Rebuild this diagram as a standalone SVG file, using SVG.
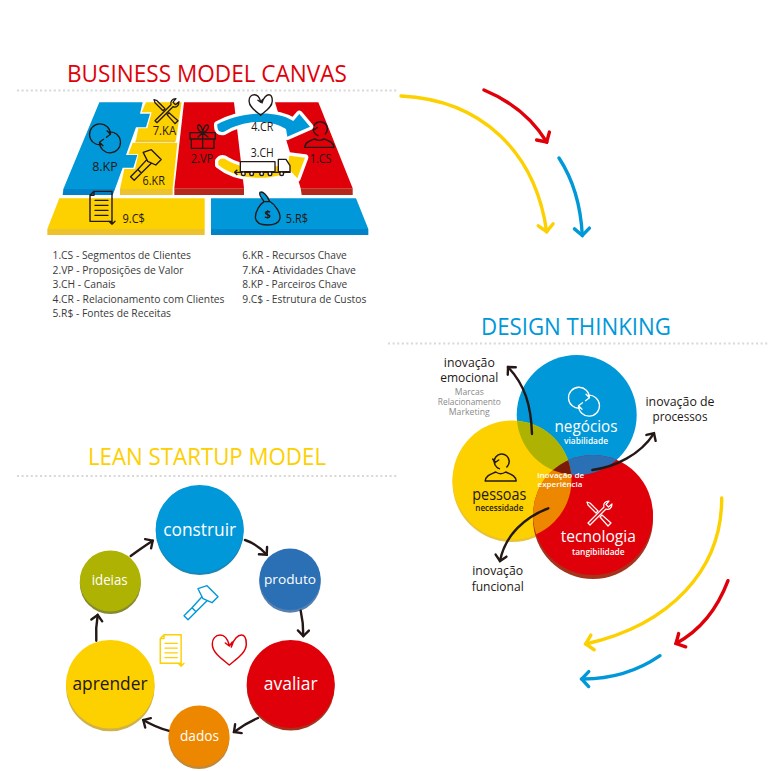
<svg xmlns="http://www.w3.org/2000/svg" xmlns:xlink="http://www.w3.org/1999/xlink" width="771" height="771" viewBox="0 0 771 771">
<style>
text{font-family:"Open Sans","Noto Sans","Liberation Sans",sans-serif;text-anchor:middle}
.title{font-size:23px}
.rule{fill:none;stroke:#d8d8d8;stroke-width:2;stroke-dasharray:2 2.6}
.legend{font-size:10.5px;fill:#3a3a3a;text-anchor:start}
.tag{font-size:36px;fill:#231815}
.note{font-size:13px;fill:#231815}
.sub{font-size:8.5px;fill:#8a8a8a}
.w{fill:#fff}
.ic{fill:none;stroke-linecap:round;stroke-linejoin:round}
.k{stroke:#231815}
.wire{fill:none;stroke:#231815;stroke-width:2.4;stroke-linecap:round}
.big{fill:none;stroke-width:3.4;stroke-linecap:round}
.swoosh{stroke:#fff;stroke-width:20;stroke-linejoin:round;paint-order:stroke}
</style>
<defs>
<marker id="hk" markerUnits="userSpaceOnUse" markerWidth="14" markerHeight="16" viewBox="-9 -8 12 16" refX="0" refY="0" orient="auto" overflow="visible"><path d="M-5.5 -5.5 L0 0 L-5.5 5.5" fill="none" stroke="#231815" stroke-width="2.4" stroke-linecap="round" stroke-linejoin="miter"/></marker>
<marker id="hy" markerUnits="userSpaceOnUse" markerWidth="14" markerHeight="20" viewBox="-10 -10 12 20" refX="0" refY="0" orient="auto" overflow="visible"><path d="M-7 -7.5 L0 0 L-7 7.5" fill="none" stroke="#fdd000" stroke-width="3.4" stroke-linecap="round"/></marker>
<marker id="hr" markerUnits="userSpaceOnUse" markerWidth="14" markerHeight="20" viewBox="-10 -10 12 20" refX="0" refY="0" orient="auto" overflow="visible"><path d="M-7 -7.5 L0 0 L-7 7.5" fill="none" stroke="#e00009" stroke-width="3.4" stroke-linecap="round"/></marker>
<marker id="hb" markerUnits="userSpaceOnUse" markerWidth="14" markerHeight="20" viewBox="-10 -10 12 20" refX="0" refY="0" orient="auto" overflow="visible"><path d="M-7 -7.5 L0 0 L-7 7.5" fill="none" stroke="#0098d8" stroke-width="3.4" stroke-linecap="round"/></marker>

<g id="i-loop"><path d="M-4 6.5A10.5 10.5 0 1 1 5.5 -4M2 -7.5L5.5 -4L1.5 -1M4 -6.5A10.5 10.5 0 1 1 -5.5 4M-2 7.5L-5.5 4L-1.5 1"/></g>
<g id="i-tools"><path d="M-11 9L5 -7C4 -10 6 -13 10 -13L7 -9.5L9.5 -7L13 -10C13 -6 10 -3.5 7 -5L-9 11Z"/><path d="M-12 -12L-9 -11L-1 -3L-3 -1L-11 -9ZM1 3L3 1L12 9L9 12Z"/></g>
<g id="i-hammer"><path d="M-2 -14L7 -17L18 -6L12 0L3 -4ZM2 -6L-8 5L-4 9L7 -2M-8 5L-16 13L-12 17L-4 9"/></g>
<g id="i-doc"><path d="M-7 -16H11V14H-11V-12ZM-7 -16V-12H-11M-6 -7H7M-6 -2H7M-6 3H7M-6 8H7M11 5V17M8 14L11 17L14 14"/></g>
<g id="i-heart"><path d="M2 -3C4 -11 9 -15 12 -15C16 -15 17 -10 17 -6C17 3 7 9 0 15C-7 9 -17 3 -17 -6C-17 -11 -14 -15 -9 -15C-5 -15 -2 -12 0 -5M-4 -7L0 -4L3 -8"/></g>
<g id="i-person"><circle cx="1" cy="-6.5" r="7.5" stroke-dasharray="36 8" transform="rotate(130 1 -6.5)"/><path d="M-8 -9L-5.5 -5.5L-2 -8M-15.5 13H15.5C15 7 9 6 5 4C2 6 -2 6 -5 4C-9 6 -15 7 -15.5 13Z"/></g>

<clipPath id="cb"><circle cx="576.7" cy="415" r="60"/></clipPath>
<clipPath id="cy"><circle cx="512" cy="480" r="59.5"/></clipPath>
<clipPath id="cr"><circle cx="593" cy="515" r="60"/></clipPath>
</defs>

<rect width="771" height="771" fill="#fff"/>

<!-- Section headings and dotted rules -->
<g id="headings">
<text class="title" x="207" y="82" fill="#e00009" textLength="280" lengthAdjust="spacingAndGlyphs">BUSINESS MODEL CANVAS</text>
<line class="rule" x1="17" y1="90.5" x2="398" y2="90.5"/>
<text class="title" x="576" y="335" fill="#0098d8" textLength="190" lengthAdjust="spacingAndGlyphs">DESIGN THINKING</text>
<line class="rule" x1="388" y1="343.5" x2="769" y2="343.5"/>
<text class="title" x="207" y="465" fill="#fdd000" textLength="238" lengthAdjust="spacingAndGlyphs">LEAN STARTUP MODEL</text>
<line class="rule" x1="17" y1="476" x2="398" y2="476"/>
</g>

<!-- Canvas blocks, drawn at triple scale -->
<g id="canvas" transform="translate(40 85) scale(.33333)">
<g id="kp">
<path fill="#0082c8" d="M70 312H225L218 330H68Z"/>
<path fill="#0098d8" d="M178 52H308L300 86H330L318 127H288L258 210H292L280 248H248L225 312H70Z"/>
<use href="#i-loop" transform="translate(195 160) scale(3)" class="ic k" stroke-width="1.3"/>
<text class="tag" x="195" y="258" textLength="77" lengthAdjust="spacingAndGlyphs">8.KP</text>
</g>
<g id="ka">
<path fill="#ecc32e" d="M288 165H408L405 172H285Z"/>
<path fill="#fdd000" d="M318 52H425L408 165H288L295 130H322L335 82H305Z"/>
<use href="#i-tools" transform="translate(378 80) scale(3)" class="ic k" stroke-width="1.3"/>
<text class="tag" x="373" y="150" textLength="70" lengthAdjust="spacingAndGlyphs">7.KA</text>
</g>
<g id="kr">
<path fill="#ecc32e" d="M240 312H398V330H240Z"/>
<path fill="#fdd000" d="M278 173H412L398 312H240L253 252H285L295 208H265Z"/>
<use href="#i-hammer" transform="translate(315 240) scale(2.7)" class="ic k" stroke-width="1.5"/>
<text class="tag" x="341" y="300" textLength="67" lengthAdjust="spacingAndGlyphs">6.KR</text>
</g>
<g id="vp">
<path fill="#b5281a" d="M403 310H612V330H403Z"/>
<path fill="#e00009" d="M432 52H582L612 310H403Z"/>
<g class="ic k" stroke-width="4"><path d="M450 143H526V162H450ZM454 162V190H522V162ZM488 143V190M488 143C470 138 470 118 478 120C484 122 488 135 488 143C490 132 494 118 502 120C510 124 502 140 488 143M488 143L474 156M488 143L504 156"/></g>
<text class="tag" x="486" y="235" textLength="68" lengthAdjust="spacingAndGlyphs">2.VP</text>
</g>
<g id="cs">
<path fill="#b5281a" d="M782 310H938V330H785Z"/>
<path fill="#e00009" d="M705 52H835L938 310H782Z"/>
<use href="#i-person" transform="translate(838 150) scale(2.85)" class="ic k" stroke-width="1.5"/>
<text class="tag" x="842" y="235" textLength="65" lengthAdjust="spacingAndGlyphs">1.CS</text>
</g>
<g id="cr">
<path class="swoosh" fill="#0098d8" d="M532 118C590 85 700 70 760 108L778 87L810 125L742 155L738 132C690 100 610 105 552 140Q530 145 532 118Z"/>
<use href="#i-heart" transform="translate(662 60) scale(2.05)" class="ic k" stroke-width="2"/>
<text class="tag" x="667" y="137" textLength="67" lengthAdjust="spacingAndGlyphs">4.CR</text>
</g>
<g id="ch">
<path class="swoosh" fill="#fdd000" d="M535 228Q545 215 560 225C600 250 680 262 745 232L748 212L795 218L772 280L752 258C690 290 590 285 535 240Z"/>
<text class="tag" x="667" y="215" textLength="69" lengthAdjust="spacingAndGlyphs">3.CH</text>
<g stroke="#231815" stroke-width="4" fill="#fff" stroke-linejoin="round"><path d="M601 230H705V260H601Z"/><path d="M715 260V223H738L750 242V260Z"/><path d="M584 262H752" fill="none"/><path d="M592 254L584 262L592 270" fill="none"/><circle cx="610" cy="266" r="5.5"/><circle cx="635" cy="266" r="5.5"/><circle cx="665" cy="266" r="5.5"/><circle cx="690" cy="266" r="5.5"/><circle cx="725" cy="266" r="5.5"/></g>
</g>
<g id="cost">
<path fill="#ecc32e" d="M22 432H494V450H22Z"/>
<path fill="#fdd000" d="M58 340H494V432H22Z"/>
<use href="#i-doc" transform="translate(183 367) scale(3)" class="ic k" stroke-width="1.4"/>
<text class="tag" x="281" y="413" textLength="67" lengthAdjust="spacingAndGlyphs">9.C$</text>
</g>
<g id="revenue">
<path fill="#0082c8" d="M513 432H985V450H513Z"/>
<path fill="#0098d8" d="M513 340H948L985 432H513Z"/>
<path fill="#0098d8" stroke="#231815" stroke-width="4" stroke-linejoin="round" d="M660 322C668 318 682 330 688 348C708 360 722 385 720 400C717 414 700 420 682 420C665 420 648 414 646 398C646 378 660 358 672 350C668 340 655 332 660 322ZM670 350H690"/>
<text x="683" y="398" font-size="34" font-weight="700" fill="#231815">$</text>
<text class="tag" x="771" y="413" textLength="67" lengthAdjust="spacingAndGlyphs">5.R$</text>
</g>
</g>

<!-- Abbreviation key -->
<g id="legend">
<text class="legend" x="52.5" y="259" textLength="138.5" lengthAdjust="spacingAndGlyphs">1.CS - Segmentos de Clientes</text>
<text class="legend" x="52.5" y="273.5" textLength="131" lengthAdjust="spacingAndGlyphs">2.VP - Proposições de Valor</text>
<text class="legend" x="52.5" y="288" textLength="63" lengthAdjust="spacingAndGlyphs">3.CH - Canais</text>
<text class="legend" x="52.5" y="302.7" textLength="172" lengthAdjust="spacingAndGlyphs">4.CR - Relacionamento com Clientes</text>
<text class="legend" x="52.5" y="317.3" textLength="118.5" lengthAdjust="spacingAndGlyphs">5.R$ - Fontes de Receitas</text>
<text class="legend" x="242.3" y="259" textLength="104.5" lengthAdjust="spacingAndGlyphs">6.KR - Recursos Chave</text>
<text class="legend" x="242.3" y="273.5" textLength="113.5" lengthAdjust="spacingAndGlyphs">7.KA - Atividades Chave</text>
<text class="legend" x="242.3" y="288" textLength="105" lengthAdjust="spacingAndGlyphs">8.KP - Parceiros Chave</text>
<text class="legend" x="242.3" y="302.7" textLength="124" lengthAdjust="spacingAndGlyphs">9.C$ - Estrutura de Custos</text>
</g>

<!-- Overlapping circles of the design thinking model -->
<g id="venn">
<g id="negocios">
<circle cx="576.7" cy="415" r="60" fill="#0098d8"/>
</g>
<g id="pessoas">
<circle cx="512" cy="482.5" r="59.5" fill="#e8c435"/>
<circle cx="512" cy="480" r="59.5" fill="#fdd000"/>
</g>
<g id="tecnologia">
<circle cx="593" cy="519" r="60" fill="#a5331c"/>
<circle cx="593" cy="515" r="60" fill="#e00009"/>
</g>
<g clip-path="url(#cb)"><circle cx="512" cy="480" r="59.5" fill="#aeb303"/></g>
<g clip-path="url(#cb)"><circle cx="593" cy="515" r="60" fill="#2b70b5"/></g>
<g clip-path="url(#cy)"><circle cx="593" cy="515" r="60" fill="#ee8700"/></g>
<g clip-path="url(#cy)"><g clip-path="url(#cb)"><circle cx="593" cy="515" r="60" fill="#7a1a0a"/></g></g>
<use href="#i-loop" transform="translate(584 401.7)" class="ic" stroke="#fff" stroke-width="1.3"/>
<use href="#i-person" transform="translate(500.7 468)" class="ic k" stroke-width="1.5"/>
<use href="#i-tools" transform="translate(599 514)" class="ic" stroke="#fff" stroke-width="1.2"/>
<text class="w" x="586" y="431.7" font-size="17" textLength="63" lengthAdjust="spacingAndGlyphs">negócios</text>
<text class="w" x="586" y="444" font-size="8.5" font-weight="600" textLength="44" lengthAdjust="spacingAndGlyphs">viabilidade</text>
<text x="499.3" y="499.5" font-size="17" fill="#231815" textLength="54" lengthAdjust="spacingAndGlyphs">pessoas</text>
<text x="499.3" y="511" font-size="8.5" font-weight="600" fill="#231815" textLength="48" lengthAdjust="spacingAndGlyphs">necessidade</text>
<text class="w" x="598.3" y="541.7" font-size="17" textLength="75" lengthAdjust="spacingAndGlyphs">tecnologia</text>
<text class="w" x="598.3" y="555.3" font-size="8.5" font-weight="600" textLength="52.7" lengthAdjust="spacingAndGlyphs">tangibilidade</text>
<text class="w" x="560.7" y="478" font-size="7.5" font-weight="600" textLength="47" lengthAdjust="spacingAndGlyphs">inovação de</text>
<text class="w" x="560" y="486.7" font-size="7.5" font-weight="600" textLength="45" lengthAdjust="spacingAndGlyphs">experiência</text>
</g>
<g id="venn-notes">
<text class="note" x="469.3" y="366.7" textLength="51" lengthAdjust="spacingAndGlyphs">inovação</text>
<text class="note" x="469.3" y="381.7" textLength="58" lengthAdjust="spacingAndGlyphs">emocional</text>
<text class="sub" x="469.3" y="394.5" textLength="29" lengthAdjust="spacingAndGlyphs">Marcas</text>
<text class="sub" x="469.3" y="404.5" textLength="63" lengthAdjust="spacingAndGlyphs">Relacionamento</text>
<text class="sub" x="469.3" y="415" textLength="41" lengthAdjust="spacingAndGlyphs">Marketing</text>
<text class="note" x="680" y="406" textLength="69" lengthAdjust="spacingAndGlyphs">inovação de</text>
<text class="note" x="680" y="421" textLength="55" lengthAdjust="spacingAndGlyphs">processos</text>
<text class="note" x="497.7" y="575" textLength="51" lengthAdjust="spacingAndGlyphs">inovação</text>
<text class="note" x="497.7" y="590.7" textLength="52" lengthAdjust="spacingAndGlyphs">funcional</text>
</g>

<!-- Build-measure-learn cycle -->
<g id="lean">
<g id="construir"><circle cx="199.7" cy="531" r="44" fill="#1a86b5"/><circle cx="199.7" cy="529" r="44" fill="#0098d8"/><text class="w" x="199.7" y="535.7" font-size="18" textLength="73" lengthAdjust="spacingAndGlyphs">construir</text></g>
<g id="produto"><circle cx="290" cy="582" r="30.7" fill="#5580b0"/><circle cx="290" cy="579.3" r="30.7" fill="#2b70b5"/><text class="w" x="290" y="584" font-size="13.5" textLength="52" lengthAdjust="spacingAndGlyphs">produto</text></g>
<g id="avaliar"><circle cx="290.7" cy="686.5" r="44" fill="#a5331c"/><circle cx="290.7" cy="684" r="44" fill="#e00009"/><text class="w" x="290.7" y="690" font-size="18" textLength="54" lengthAdjust="spacingAndGlyphs">avaliar</text></g>
<g id="dados"><circle cx="199" cy="738.5" r="30.5" fill="#c08a3a"/><circle cx="199" cy="736" r="30.5" fill="#ee8700"/><text class="w" x="199.5" y="741" font-size="14" textLength="39" lengthAdjust="spacingAndGlyphs">dados</text></g>
<g id="aprender"><circle cx="110.3" cy="687" r="44.3" fill="#cfb24a"/><circle cx="110.3" cy="684.3" r="44.3" fill="#fdd000"/><text x="110" y="690" font-size="18" fill="#231815" textLength="75" lengthAdjust="spacingAndGlyphs">aprender</text></g>
<g id="ideias"><circle cx="110.3" cy="583.5" r="30.5" fill="#868a2f"/><circle cx="110.3" cy="581" r="30.5" fill="#aeb303"/><text class="w" x="109.7" y="585" font-size="14" textLength="36" lengthAdjust="spacingAndGlyphs">ideias</text></g>
<use href="#i-hammer" transform="translate(200 602.7)" class="ic" stroke="#0098d8" stroke-width="1.4"/>
<use href="#i-doc" transform="translate(170.7 650) scale(.95)" class="ic" stroke="#fdd000" stroke-width="1.5"/>
<use href="#i-heart" transform="translate(229.3 650)" class="ic" stroke="#e00009" stroke-width="1.5"/>
</g>

<!-- Connectors -->
<g id="connectors">
<path class="wire" marker-end="url(#hk)" d="M130.7 556Q140 549 152.7 540.7"/>
<path class="wire" marker-end="url(#hk)" d="M245 540Q257 544 266.7 554.7"/>
<path class="wire" marker-end="url(#hk)" d="M300.7 610.7Q303.5 623 303.3 636"/>
<path class="wire" marker-end="url(#hk)" d="M258 718Q246 723 234 732"/>
<path class="wire" marker-end="url(#hk)" d="M168.3 730.7Q155 727 143.3 720"/>
<path class="wire" marker-end="url(#hk)" d="M96.3 640.7Q95.5 628 97.7 615"/>
<path class="wire" stroke-width="2.6" marker-end="url(#hk)" d="M532 434C531 405 525 385 508 367"/>
<path class="wire" stroke-width="2.6" marker-end="url(#hk)" d="M592.3 470C615 467 640 455 654 433.3"/>
<path class="wire" stroke-width="2.6" marker-end="url(#hk)" d="M548.3 508.3C525 517 505 535 500 561"/>
<path class="big" stroke="#fdd000" marker-end="url(#hy)" d="M401 96C480 100 535 150 546.7 231.7"/>
<path class="big" stroke="#e00009" marker-end="url(#hr)" d="M484 90Q525 107 546.7 142"/>
<path class="big" stroke="#0098d8" marker-end="url(#hb)" d="M559 158Q580 190 582.3 235.5"/>
<path class="big" stroke="#fdd000" marker-end="url(#hy)" d="M721.7 498C722 570 670 625 585.7 644"/>
<path class="big" stroke="#e00009" marker-end="url(#hr)" d="M728 580.7Q711.4 624.6 676 643.5"/>
<path class="big" stroke="#0098d8" marker-end="url(#hb)" d="M660 655.7Q625.8 679.3 581.7 679"/>
</g>
</svg>
